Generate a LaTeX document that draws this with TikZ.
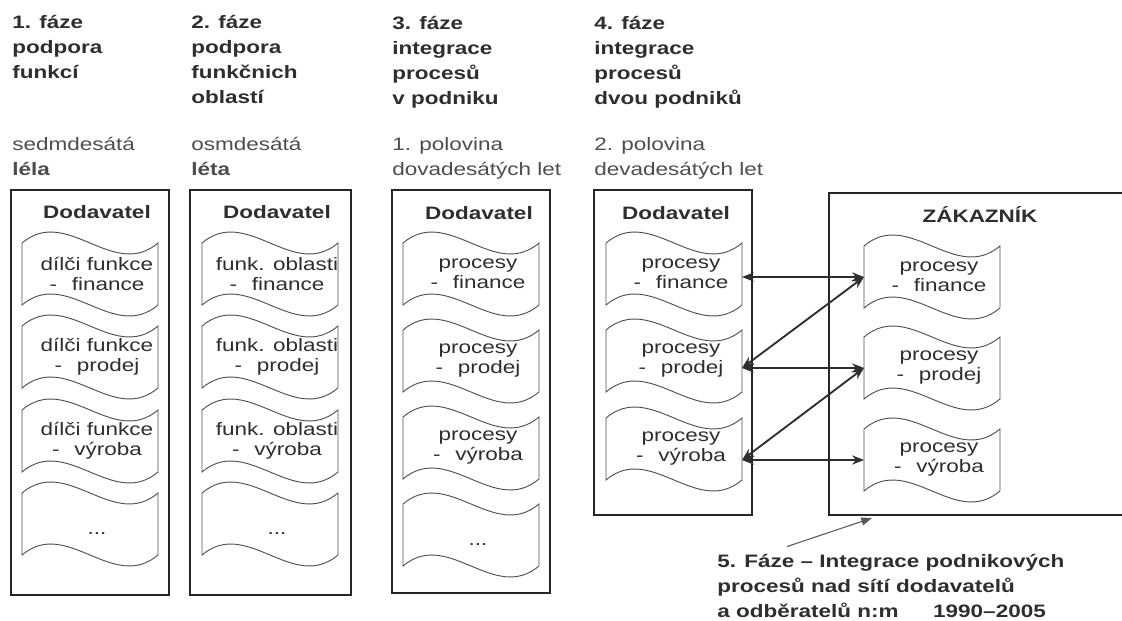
\documentclass[tikz,border=0pt]{standalone}
\usepackage{fontspec}
\setmainfont{Liberation Sans}[FakeStretch=1.25]
\usetikzlibrary{arrows.meta}
\usetikzlibrary{positioning}
\definecolor{ink}{HTML}{2E2E2E}
\definecolor{edge}{HTML}{505050}
\tikzset{box/.style = {draw=black!85, line width=1.1pt}}
\tikzset{head/.style = {anchor=base west, align=left, inner sep=0, text=ink, font=\fontsize{13.5}{18.75}\selectfont\bfseries}}
\tikzset{era/.style = {anchor=base west, align=left, inner sep=0, text=ink!85, font=\fontsize{13.5}{18.75}\selectfont}}
\tikzset{boxtitle/.style = {inner sep=0, text=ink, font=\fontsize{13.5}{16}\selectfont\bfseries}}
\tikzset{flagtext/.style = {align=center, inner sep=0, text=ink, font=\fontsize{13.5}{15}\selectfont}}
\tikzset{note/.style = {anchor=base west, align=left, inner sep=0, text=ink, font=\fontsize{13.5}{18.75}\selectfont\bfseries}}
\tikzset{link/.style = {draw=ink, line width=0.8pt, {Stealth[length=9pt,width=7pt]}-{Stealth[length=9pt,width=7pt]}}}
\tikzset{cross/.style = {link, line width=1.4pt}}
\tikzset{pointer/.style = {draw=ink!80, line width=0.8pt, -{Triangle[length=8pt,width=6pt]}}}
% wavy sheet with a two line label, anchors -w and -e on its sides
\tikzset{pics/flag/.style = {code={
    \draw[edge, line width=0.7pt] (0,0) .. controls (45,-38) and (91,38) .. (136,0) -- (136,62)
      .. controls (91,100) and (45,24) .. (0,62) -- cycle;
    \coordinate (-w) at (0,31);
    \coordinate (-e) at (136,31);
    \node[flagtext] (-t) at (75,31) {#1};
}}}

\begin{document}
\begin{tikzpicture}[x=0.75pt,y=-0.75pt]
    \useasboundingbox (0,0) rectangle (1122,621);
    % phase headings (base = last line)
    \node[head] (h1) at (12,78) {1. fáze\\podpora\\funkcí};
    \node[head] (h2) at (191,103) {2. fáze\\podpora\\funkčnich\\oblastí};
    \node[head] (h3) at (392,104) {3. fáze\\integrace\\procesů\\v podniku};
    \node[head] (h4) at (594,104) {4. fáze\\integrace\\procesů\\dvou podniků};
    \node[era] (e1) at (12,175) {sedmdesátá\\\textbf{léla}};
    \node[era] (e2) at (191,175) {osmdesátá\\\textbf{léta}};
    \node[era] (e3) at (392,175) {1. polovina\\dovadesátých let};
    \node[era] (e4) at (594,175) {2. polovina\\devadesátých let};
    % supplier frames
    \draw[box] (11,190) rectangle (169,595);
    \draw[box] (190,190) rectangle (351,595);
    \draw[box] (392,190) rectangle (550,593);
    \draw[box] (594,190) rectangle (752,515);
    \node[boxtitle] (t1) at (97,212) {Dodavatel};
    \node[boxtitle] (t2) at (277,212) {Dodavatel};
    \node[boxtitle] (t3) at (479,213) {Dodavatel};
    \node[boxtitle] (t4) at (676,213) {Dodavatel};
    % customer frame, runs off to the right
    \draw[box] (1122,193) -- (829,193) -- (829,515) -- (1122,515);
    \node[boxtitle] (t5) at (980,215) {ZÁKAZNÍK};
    % sheets
    \foreach \n/\y/\what in {a/243/finance,b/326/prodej,c/410/výroba}
        \pic (f1\n) at (22,\y) {flag={dílči funkce\\-\hspace{11pt}\what}};
    \pic (f1d) at (22,493) {flag={\mbox{}\\...}};
    \foreach \n/\y/\what in {a/243/finance,b/326/prodej,c/410/výroba}
        \pic (o2\n) at (202,\y) {flag={funk. oblasti\\-\hspace{11pt}\what}};
    \pic (o2d) at (202,493) {flag={\mbox{}\\...}};
    \foreach \n/\y/\what in {a/243/finance,b/330/prodej,c/417/výroba}
        \pic (p3\n) at (403,\y) {flag={procesy\\-\hspace{11pt}\what}};
    \pic (p3d) at (403,504) {flag={\mbox{}\\...}};
    \foreach \n/\y/\what in {a/243/finance,b/330/prodej,c/418/výroba}
        \pic (p4\n) at (606,\y) {flag={procesy\\-\hspace{11pt}\what}};
    \foreach \n/\y/\what in {a/246/finance,b/337/prodej,c/429/výroba}
        \pic (zk\n) at (864,\y) {flag={procesy\\-\hspace{11pt}\what}};
    % links between supplier and customer
    \draw[link] (p4a-e |- zka-w) -- (zka-w);
    \draw[link] (p4b-e |- zkb-w) -- (zkb-w);
    \draw[link] (p4c-e |- zkc-w) -- (zkc-w);
    \draw[cross] (zka-w) -- (p4b-e |- zkb-w);
    \draw[cross] (zkb-w) -- (p4c-e |- zkc-w);
    % fifth phase
    \node[note] (f5) at (717,617) {5. Fáze – Integrace podnikových\\procesů nad sítí dodavatelů\\a odběratelů n:m\hspace{26pt}1990–2005};
    \coordinate (zk-s) at (872,518);
    \draw[pointer] ([shift={(70,-7)}]f5.north west) -- (zk-s);
\end{tikzpicture}
\end{document}
